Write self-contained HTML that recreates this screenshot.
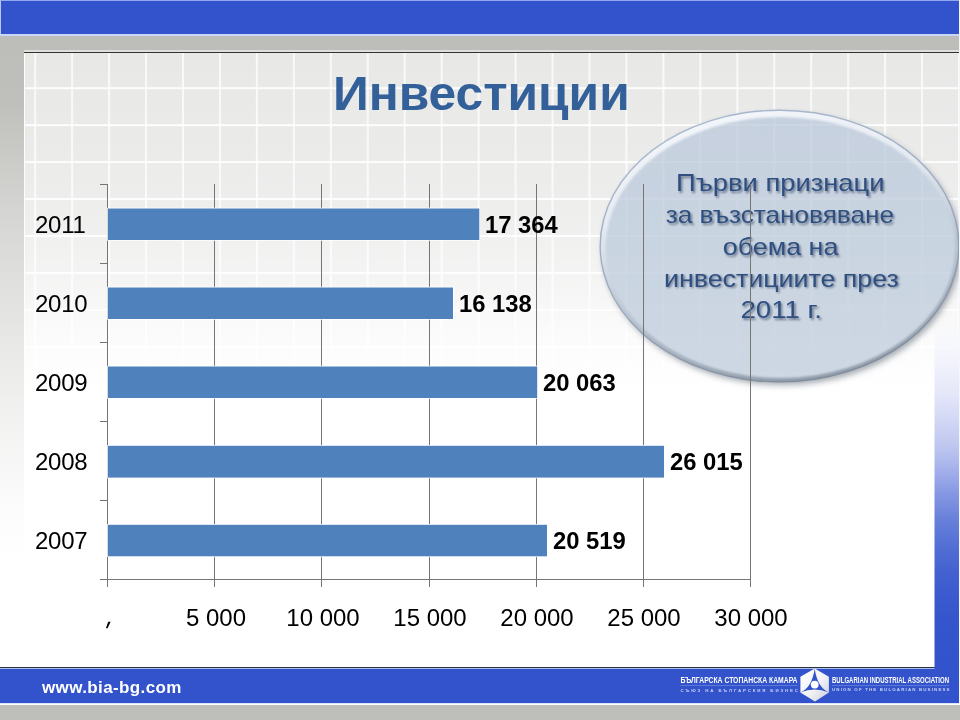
<!DOCTYPE html>
<html lang="bg">
<head>
<meta charset="utf-8">
<title>Инвестиции</title>
<style>
html,body{margin:0;padding:0;background:#fff;}
body{width:960px;height:720px;overflow:hidden;position:relative;font-family:"Liberation Sans",sans-serif;}
#slide{position:absolute;left:0;top:0;width:960px;height:720px;overflow:hidden;background:#fff;}
.abs{position:absolute;}
/* top bar */
#topblue{left:0;top:0;width:960px;height:34.3px;background:#3353CC;border-top:1px solid #93A8EC;border-left:1px solid #B9C7F3;box-sizing:border-box;}
#topline{left:0;top:34.3px;width:960px;height:1.6px;background:#C9D5F6;}
#topgrey{left:0;top:35.8px;width:960px;height:15px;background:#BDBEBA;}
#toplight{left:24px;top:50px;width:936px;height:1.6px;background:#DEDEDC;}
#edgeR{left:959px;top:0;width:1px;height:704px;background:#F4F6FD;}
#leftgrey{left:0;top:35.8px;width:24px;height:525px;background:linear-gradient(to bottom,#BDBEBA 0px,#BFC0BC 65px,#C9C9C6 115px,#D3D3D1 165px,#DBDBD9 215px,#E2E2E0 265px,#F0F0EF 365px,#FBFBFB 465px,#fff 520px);}
#grid{left:24px;top:52px;width:936px;height:400px;
 background-color:#E8E8E7;
 background-image:
  linear-gradient(to right,rgba(255,255,255,.75) 0,rgba(255,255,255,.75) 1.6px,transparent 1.6px),
  linear-gradient(to bottom,rgba(255,255,255,.92) 0,rgba(255,255,255,.92) 1.9px,transparent 1.9px);
 background-size:36.96px 36.96px;
 background-position:10.2px -1.76px;}
#gridfade{left:24px;top:52px;width:936px;height:400px;background:linear-gradient(to bottom,rgba(255,255,255,0) 0px,rgba(255,255,255,.12) 100px,rgba(255,255,255,.34) 180px,rgba(255,255,255,.6) 240px,rgba(255,255,255,.84) 285px,rgba(255,255,255,.96) 320px,#fff 345px);}
#gridtop{left:24px;top:51.5px;width:936px;height:1.4px;background:#333;}
#title{left:0;top:0;width:960px;text-align:center;color:#34609A;font-weight:bold;font-size:48px;white-space:nowrap;line-height:1;}
#title span{display:inline-block;transform:scaleX(1.035);transform-origin:50% 50%;}
.cat,.val,.ax,#www,#logo,#art{will-change:transform;}
.cat{font-size:24px;letter-spacing:-.25px;color:#000;white-space:nowrap;line-height:1;}
.val{font-size:23.8px;font-weight:bold;color:#000;white-space:nowrap;line-height:1;letter-spacing:0;}
.ax{font-size:24px;color:#000;white-space:nowrap;line-height:1;text-align:center;width:120px;}
#www{left:42px;top:677.6px;color:#fff;font-weight:bold;font-size:17px;letter-spacing:.38px;white-space:nowrap;line-height:20px;}
</style>
</head>
<body>
<div id="slide">
 <div id="leftgrey" class="abs"></div>
 <div id="grid" class="abs"></div>
 <div class="abs" style="left:24px;top:52px;width:1.4px;height:400px;background:#fff;opacity:.9"></div>
 <div id="gridfade" class="abs"></div>
 <div id="topblue" class="abs"></div>
 <div id="topline" class="abs"></div>
 <div id="topgrey" class="abs"></div>
 <div id="toplight" class="abs"></div>
 <div id="gridtop" class="abs"></div>

 <!-- footer -->
 <div class="abs" style="left:0;top:666.5px;width:934.5px;height:1.7px;background:#2f333b;"></div>
 <div class="abs" style="left:0;top:668.2px;width:960px;height:34.5px;background:#3353CC;border-top:1.6px solid #A9BCF0;box-sizing:border-box;"></div>
 <div class="abs" style="left:0;top:702.6px;width:960px;height:1.9px;background:#DCE4F8;"></div>
 <div class="abs" style="left:0;top:704.5px;width:960px;height:16px;background:#BEBFBB;"></div>
 <div class="abs" style="left:934.5px;top:668.2px;width:24.5px;height:1.6px;background:#3353CC;opacity:.75;"></div>
 <div id="www" class="abs">www.bia-bg.com</div>
 <svg id="art" class="abs" style="left:0;top:0" width="960" height="720" viewBox="0 0 960 720">
  <defs>
   <linearGradient id="strip" x1="0" y1="0" x2="0" y2="1">
    <stop offset="0" stop-color="#F6F7FD" stop-opacity="0"/>
    <stop offset="0.1" stop-color="#F1F2FC" stop-opacity="0.8"/>
    <stop offset="0.214" stop-color="#E4E6F9"/>
    <stop offset="0.357" stop-color="#C0C8F0"/>
    <stop offset="0.429" stop-color="#A4B0EA"/>
    <stop offset="0.5" stop-color="#8496E2"/>
    <stop offset="0.571" stop-color="#6880DA"/>
    <stop offset="0.643" stop-color="#5470D4"/>
    <stop offset="0.714" stop-color="#4562D0"/>
    <stop offset="0.786" stop-color="#3C5ACE"/>
    <stop offset="0.857" stop-color="#3555CC"/>
    <stop offset="1" stop-color="#3353CC"/>
   </linearGradient>
   <linearGradient id="ellfill" x1="0" y1="0" x2="0" y2="1">
    <stop offset="0" stop-color="#C6D1DF"/>
    <stop offset="0.5" stop-color="#C9D4E1"/>
    <stop offset="1" stop-color="#CED8E3"/>
   </linearGradient>
   <linearGradient id="elledge" x1="0.3" y1="0" x2="0.7" y2="1">
    <stop offset="0" stop-color="#A9B8D0"/>
    <stop offset="0.5" stop-color="#9DABC0"/>
    <stop offset="1" stop-color="#7E8A99"/>
   </linearGradient>
   <linearGradient id="ellrim" x1="0.35" y1="0" x2="0.65" y2="1">
    <stop offset="0" stop-color="#F3F6FA"/>
    <stop offset="0.3" stop-color="#E6EBF2"/>
    <stop offset="0.6" stop-color="#BCC7D5"/>
    <stop offset="1" stop-color="#8F9AA9"/>
   </linearGradient>
   <filter id="ellshadow" x="-10%" y="-10%" width="125%" height="125%">
    <feGaussianBlur stdDeviation="3"/>
   </filter>
   <filter id="soft" x="-5%" y="-5%" width="110%" height="110%">
    <feGaussianBlur stdDeviation="0.9"/>
   </filter>
   <filter id="txtshadow" x="-10%" y="-30%" width="120%" height="170%">
    <feGaussianBlur stdDeviation="1.1"/>
   </filter>
   <pattern id="gpat" x="34.2" y="50.24" width="36.96" height="36.96" patternUnits="userSpaceOnUse">
    <rect x="0" y="0" width="1.6" height="36.96" fill="#fff"/>
    <rect x="0" y="0" width="36.96" height="1.6" fill="#fff"/>
   </pattern>
   <linearGradient id="gfade" gradientUnits="userSpaceOnUse" x1="0" y1="100" x2="0" y2="400">
    <stop offset="0" stop-color="#fff"/>
    <stop offset="0.5" stop-color="#999"/>
    <stop offset="1" stop-color="#000"/>
   </linearGradient>
   <mask id="gmask" maskUnits="userSpaceOnUse" x="590" y="100" width="370" height="300">
    <rect x="590" y="100" width="370" height="300" fill="url(#gfade)"/>
   </mask>
  </defs>
  <!-- right vertical strip -->
  <rect x="934.5" y="320" width="25.5" height="350" fill="url(#strip)"/>
  <!-- ellipse -->
  <ellipse cx="782" cy="249.5" rx="179" ry="135.5" fill="#4A5564" opacity="0.5" filter="url(#ellshadow)"/>
  <ellipse cx="779.5" cy="246" rx="180" ry="136.5" fill="url(#elledge)"/>
  <ellipse cx="779.5" cy="246" rx="178.6" ry="135.1" fill="url(#ellrim)"/>
  <ellipse cx="780.3" cy="247.5" rx="174.8" ry="130.5" fill="url(#ellfill)" filter="url(#soft)"/>
  <ellipse cx="779.5" cy="247.3" rx="176" ry="130.8" fill="url(#gpat)" opacity="0.15" mask="url(#gmask)"/>
  <!-- ellipse text -->
  <g font-family="Liberation Sans, sans-serif" font-size="24" fill="#1B2B47" opacity="0.55" filter="url(#txtshadow)">
   <text x="677.6" y="192.9" textLength="208.5" lengthAdjust="spacingAndGlyphs">Първи признаци</text>
   <text x="667.4" y="224.6" textLength="228.2" lengthAdjust="spacingAndGlyphs">за възстановяване</text>
   <text x="724.3" y="256.6" textLength="115.7" lengthAdjust="spacingAndGlyphs">обема на</text>
   <text x="665.6" y="288.3" textLength="234.8" lengthAdjust="spacingAndGlyphs">инвестициите през</text>
   <text x="742.1" y="320.2" textLength="81.5" lengthAdjust="spacingAndGlyphs">2011 г.</text>
  </g>
  <g font-family="Liberation Sans, sans-serif" font-size="24" fill="#2F4F80">
   <text x="676.0" y="191.1" textLength="208.5" lengthAdjust="spacingAndGlyphs">Първи признаци</text>
   <text x="665.8" y="222.8" textLength="228.2" lengthAdjust="spacingAndGlyphs">за възстановяване</text>
   <text x="722.7" y="254.8" textLength="115.7" lengthAdjust="spacingAndGlyphs">обема на</text>
   <text x="664.0" y="286.5" textLength="234.8" lengthAdjust="spacingAndGlyphs">инвестициите през</text>
   <text x="740.5" y="318.4" textLength="81.5" lengthAdjust="spacingAndGlyphs">2011 г.</text>
  </g>
  <!-- chart gridlines -->
  <g stroke="#757575" stroke-width="1" shape-rendering="crispEdges">
   <line x1="214.5" y1="184" x2="214.5" y2="587"/>
   <line x1="321.5" y1="184" x2="321.5" y2="587"/>
   <line x1="429.5" y1="184" x2="429.5" y2="587"/>
   <line x1="536.5" y1="184" x2="536.5" y2="587"/>
   <line x1="643.5" y1="184" x2="643.5" y2="587"/>
   <line x1="750.5" y1="184" x2="750.5" y2="587"/>
   <line x1="107.5" y1="184" x2="107.5" y2="587"/>
   <line x1="100" y1="579.5" x2="751" y2="579.5"/>
   <line x1="100" y1="184.5" x2="108" y2="184.5"/>
   <line x1="100" y1="263.5" x2="108" y2="263.5"/>
   <line x1="100" y1="342.5" x2="108" y2="342.5"/>
   <line x1="100" y1="421.5" x2="108" y2="421.5"/>
   <line x1="100" y1="500.5" x2="108" y2="500.5"/>
  </g>
  <path d="M108.2,621.8 L110.6,621.8 L107.6,628.2 L105.9,628.2 Z" fill="#000"/>
  <!-- bars -->
  <g fill="#4F81BD" stroke="#fff" stroke-width="1.6" stroke-opacity="0.9" paint-order="stroke">
   <rect x="108" y="208.5" width="371.3" height="31.5"/>
   <rect x="108" y="287.5" width="345" height="31.5"/>
   <rect x="108" y="366.5" width="429.2" height="31.5"/>
   <rect x="108" y="445.8" width="556" height="31.8"/>
   <rect x="108" y="524.8" width="439" height="31.5"/>
  </g>
 </svg>
 <div id="title" class="abs" style="top:69.6px;left:1.5px;"><span>Инвестиции</span></div>
 <div class="abs cat" style="left:35px;top:213px;">2011</div>
 <div class="abs cat" style="left:35px;top:292px;">2010</div>
 <div class="abs cat" style="left:35px;top:371px;">2009</div>
 <div class="abs cat" style="left:35px;top:450px;">2008</div>
 <div class="abs cat" style="left:35px;top:529px;">2007</div>
 <div class="abs val" style="left:485px;top:213px;">17 364</div>
 <div class="abs val" style="left:459px;top:292px;">16 138</div>
 <div class="abs val" style="left:542.5px;top:371px;">20 063</div>
 <div class="abs val" style="left:669.5px;top:450px;">26 015</div>
 <div class="abs val" style="left:552.5px;top:529px;">20 519</div>
 <div class="abs ax" style="left:155.5px;top:606px;">5 000</div>
 <div class="abs ax" style="left:262.5px;top:606px;">10 000</div>
 <div class="abs ax" style="left:369.5px;top:606px;">15 000</div>
 <div class="abs ax" style="left:476.5px;top:606px;">20 000</div>
 <div class="abs ax" style="left:583.5px;top:606px;">25 000</div>
 <div class="abs ax" style="left:690.5px;top:606px;">30 000</div>

 <svg id="logo" class="abs" style="left:0;top:660px" width="960" height="60" viewBox="0 660 960 60">
  <defs>
   <linearGradient id="hexg" x1="0" y1="0" x2="1" y2="1">
    <stop offset="0" stop-color="#FFFFFF"/>
    <stop offset="0.55" stop-color="#F2F3F6"/>
    <stop offset="1" stop-color="#C9CCD6"/>
   </linearGradient>
  </defs>
  <g font-family="Liberation Sans, sans-serif" font-weight="bold">
   <text x="680.5" y="683" font-size="8.8" fill="#FFFFFF" textLength="117" lengthAdjust="spacingAndGlyphs">БЪЛГАРСКА СТОПАНСКА КАМАРА</text>
   <text x="680.5" y="691.5" font-size="4.4" fill="#C9D3F5" textLength="117.5" lengthAdjust="spacing">СЪЮЗ НА БЪЛГАРСКИЯ БИЗНЕС</text>
   <text x="832" y="682.8" font-size="8.8" fill="#FFFFFF" textLength="117" lengthAdjust="spacingAndGlyphs">BULGARIAN INDUSTRIAL ASSOCIATION</text>
   <text x="832" y="691" font-size="4.4" fill="#C9D3F5" textLength="117.5" lengthAdjust="spacing">UNION OF THE BULGARIAN BUSINESS</text>
  </g>
  <rect x="680.5" y="685.2" width="117" height="0.7" fill="#8FA2E6" opacity="0.7"/>
  <rect x="832" y="685" width="117" height="0.7" fill="#8FA2E6" opacity="0.7"/>
  <!-- hexagon logo -->
  <polygon points="814.7,668.4 828.9,676.8 828.9,692.4 815,701.4 800.4,692.4 800.4,676.8" fill="url(#hexg)"/>
  <!-- blue tri-star -->
  <path d="M814.7,668.4 Q812.1,687.2 800.4,692.4 Q814.7,686.8 828.9,692.4 Q817.3,687.2 814.7,668.4 Z" fill="#3353CC"/>
  <circle cx="814.7" cy="684.6" r="3.9" fill="#FFFFFF"/>
 </svg>
 <div id="edgeR" class="abs"></div>
</div>
</body>
</html>
